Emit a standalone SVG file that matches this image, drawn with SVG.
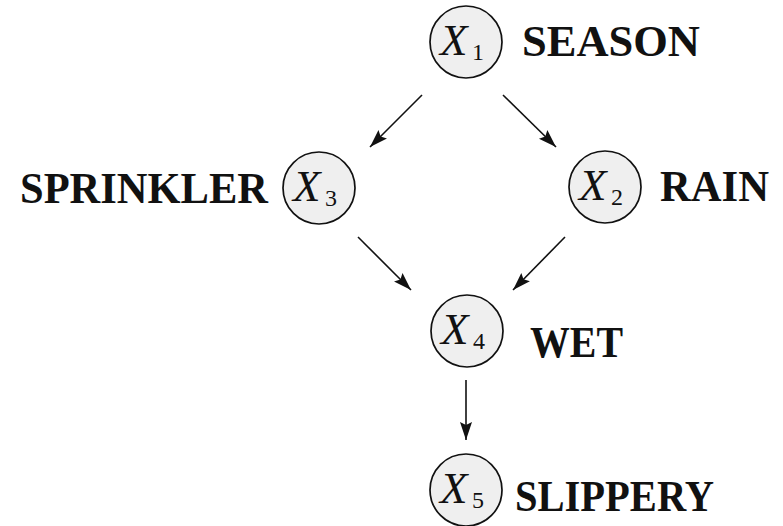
<svg xmlns="http://www.w3.org/2000/svg" width="783" height="526" viewBox="0 0 783 526">
<style>
.node circle { fill: #efefef; stroke: #111; stroke-width: 1.7; }
.v { font-family: "Liberation Serif", "DejaVu Serif", serif; font-style: italic; font-size: 45px; fill: #111; }
.sub { font-family: "Liberation Serif", "DejaVu Serif", serif; font-size: 24px; fill: #111; }
.lbl { font-family: "Liberation Serif", "DejaVu Serif", serif; font-weight: bold; font-size: 44px; fill: #111; }
.edge { stroke: #111; stroke-width: 1.6; fill: none; marker-end: url(#ah); }
</style>
<defs>
<marker id="ah" markerUnits="userSpaceOnUse" markerWidth="19" markerHeight="13" refX="18" refY="6" orient="auto">
<path d="M0,0 L18,6 L0,12 L3,6 z" fill="#111"/>
</marker>
</defs>
<g id="connectors">
<line class="edge" x1="422" y1="95" x2="370" y2="147"/>
<line class="edge" x1="503" y1="95" x2="556" y2="147"/>
<line class="edge" x1="358" y1="237" x2="411" y2="290"/>
<line class="edge" x1="565" y1="237" x2="513" y2="290"/>
<line class="edge" x1="466" y1="380" x2="466" y2="440"/>
</g>
<g id="X1" class="node">
<circle cx="466" cy="42" r="36"/>
<text class="v" x="440" y="55">X</text><text class="sub" x="472" y="60">1</text>
<text class="lbl" x="522" y="56" textLength="178" lengthAdjust="spacingAndGlyphs">SEASON</text>
</g>
<g id="X3" class="node">
<circle cx="319" cy="188" r="36"/>
<text class="v" x="293" y="201">X</text><text class="sub" x="325" y="206">3</text>
<text class="lbl" x="20" y="203" textLength="248" lengthAdjust="spacingAndGlyphs">SPRINKLER</text>
</g>
<g id="X2" class="node">
<circle cx="605" cy="187" r="36"/>
<text class="v" x="579" y="200">X</text><text class="sub" x="611" y="205">2</text>
<text class="lbl" x="660" y="201" textLength="109" lengthAdjust="spacingAndGlyphs">RAIN</text>
</g>
<g id="X4" class="node">
<circle cx="467" cy="331" r="36"/>
<text class="v" x="441" y="344">X</text><text class="sub" x="473" y="349">4</text>
<text class="lbl" x="530" y="357" textLength="93" lengthAdjust="spacingAndGlyphs">WET</text>
</g>
<g id="X5" class="node">
<circle cx="466" cy="490" r="36"/>
<text class="v" x="440" y="503">X</text><text class="sub" x="472" y="508">5</text>
<text class="lbl" x="515" y="511" textLength="199" lengthAdjust="spacingAndGlyphs">SLIPPERY</text>
</g>
</svg>
